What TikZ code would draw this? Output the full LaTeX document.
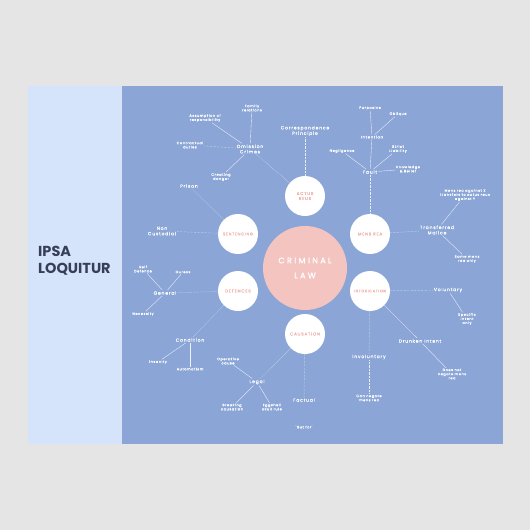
\documentclass[tikz,border=0pt]{standalone}
\usepackage{fontspec}
\setmainfont{Poppins}
\newfontfamily\trk[LetterSpace=18,FakeBold=0.15]{Poppins}
\newfontfamily\trkw[LetterSpace=30,FakeBold=1]{Poppins}
\definecolor{bggrey}{HTML}{E5E5E5}
\definecolor{panel}{HTML}{D6E4FB}
\definecolor{mainblue}{HTML}{8BA6D6}
\definecolor{lawpink}{HTML}{F3C4C0}
\definecolor{pinktxt}{HTML}{EFB2AC}
\definecolor{navy}{HTML}{363F55}
\begin{document}
\begin{tikzpicture}[x=1pt,y=-1pt,
  leaf/.style={font=\trk\fontsize{3.4}{4.1}\selectfont, text=white, align=center, inner sep=0.8pt},
  br/.style={font=\trk\fontsize{4.5}{5.4}\selectfont, text=white, align=center, inner sep=1pt},
  sub/.style={circle, fill=white, minimum size=40pt, inner sep=0pt, text=pinktxt, font=\trk\fontsize{4.2}{5}\selectfont, align=center},
  ln/.style={draw=white, line width=0.35pt, opacity=0.85},
  dl/.style={draw=white, line width=0.45pt, opacity=0.8, dash pattern=on 0.4pt off 1pt}]
\useasboundingbox (0,0) rectangle (530,530);
\fill[bggrey] (0,0) rectangle (530,530);
\fill[panel] (28,86) rectangle (122,444);
\fill[mainblue] (122,86) rectangle (503,444);
\node[anchor=west, align=left, text=navy, font=\fontsize{14.5}{17}\selectfont\bfseries, inner sep=0pt] (title) at (38,261) {IPSA\\LOQUITUR};
% circles
\node[circle, fill=lawpink, minimum size=84pt, inner sep=0pt, text=white, align=center, font=\trkw\fontsize{8}{15}\selectfont] (law) at (305,268) {CRIMINAL\\LAW};
\node[sub] (actus) at (305,196) {ACTUS\\REUS};
\node[sub] (mens) at (370,234) {MENS REA};
\node[sub, font=\trk\fontsize{3.6}{4.4}\selectfont] (intox) at (370,291) {INTOXICATION};
\node[sub] (caus) at (305,334) {CAUSATION};
\node[sub, font=\trk\fontsize{3.9}{4.6}\selectfont] (sent) at (238,234) {SENTENCING};
\node[sub] (def) at (238,291) {DEFENCES};
% actus reus branch
\node[br] (corr) at (305,131) {Correspondence\\Principle};
\node[br] (omis) at (250,149) {Omission\\Crimes};
\node[leaf] (fam) at (252,108) {Family\\relations};
\node[leaf] (assum) at (205,118) {Assumption of\\responsibility};
\node[leaf] (contr) at (190,145) {Contractual\\duties};
\node[leaf] (creat) at (221,177) {Creating\\danger};
\draw[dl] (corr) -- (actus);
\draw[dl] (omis) -- (actus);
\draw[ln] (omis) -- (fam);
\draw[ln] (omis) -- (assum);
\draw[dl] (omis) -- (contr);
\draw[ln] (omis) -- (creat);
% mens rea branch
\node[leaf] (purp) at (370,108) {Purposive};
\node[leaf] (obl) at (398,114) {Oblique};
\node[leaf, font=\trk\fontsize{3.8}{4.6}\selectfont] (intn) at (372,137) {Intention};
\node[leaf] (negl) at (342,151) {Negligence};
\node[leaf] (strict) at (398,149) {Strict\\Liability};
\node[br] (fault) at (370,172) {Fault};
\node[leaf] (know) at (408,169) {Knowledge\\\& Belief};
\draw[ln] (purp) -- (intn);
\draw[ln] (obl) -- (intn);
\draw[ln] (intn) -- (fault);
\draw[ln] (negl) -- (fault);
\draw[ln] (strict) -- (fault);
\draw[ln] (fault) -- (know);
\draw[dl] (fault) -- (mens);
% transferred malice
\node[br] (trans) at (437,230) {Transferred\\Malice};
\node[leaf] (mrx) at (465,195) {Mens rea against X\\transfers to actus reus\\against Y};
\node[leaf] (same) at (467,259) {Same mens\\rea only};
\draw[dl] (mens) -- (trans);
\draw[ln] (trans) -- (mrx);
\draw[ln] (trans) -- (same);
% sentencing
\node[br] (prison) at (189,186) {Prison};
\node[br] (noncus) at (162,231) {Non\\Custodial};
\draw[dl] (prison) -- (sent);
\draw[dl] (noncus) -- (sent);
% defences
\node[br] (gen) at (165,293) {General};
\node[leaf] (selfd) at (143,269) {Self\\Defence};
\node[leaf] (duress) at (183,272) {Duress};
\node[leaf] (nec) at (143,314) {Necessity};
\node[br] (cond) at (190,340) {Condition};
\node[leaf] (insan) at (158,362) {Insanity};
\node[leaf] (auto) at (190,369) {Automatism};
\draw[dl] (gen) -- (def);
\draw[ln] (gen) -- (selfd);
\draw[ln] (gen) -- (duress);
\draw[ln] (gen) -- (nec);
\draw[dl] (def) -- (cond);
\draw[ln] (cond) -- (insan);
\draw[ln] (cond) -- (auto);
% causation
\node[br] (legal) at (257,382) {Legal};
\node[leaf] (oper) at (228,361) {Operative\\cause};
\node[leaf] (brk) at (232,407) {Breaking\\causation};
\node[leaf] (egg) at (272,407) {Eggshell\\skull rule};
\node[br] (fact) at (304,400) {Factual};
\node[leaf] (butfor) at (304,427) {`But for'};
\draw[dl] (caus) -- (legal);
\draw[ln] (legal) -- (oper);
\draw[ln] (legal) -- (brk);
\draw[ln] (legal) -- (egg);
\draw[dl] (caus) -- (fact);
% intoxication
\node[br] (vol) at (448,290) {Voluntary};
\node[leaf] (spec) at (467,319) {Specific\\intent\\only};
\node[br] (drunk) at (420,341) {Drunken Intent};
\node[leaf] (doesnot) at (452,374) {Does not\\negate mens\\rea};
\node[br] (invol) at (369,357) {Involuntary};
\node[leaf] (cann) at (369,398) {Can negate\\mens rea};
\draw[dl] (intox) -- (vol);
\draw[ln] (vol) -- (spec);
\draw[ln] (intox) -- (drunk);
\draw[ln] (drunk) -- (doesnot);
\draw[dl] (intox) -- (invol);
\draw[dl] (invol) -- (cann);
\end{tikzpicture}
\end{document}
